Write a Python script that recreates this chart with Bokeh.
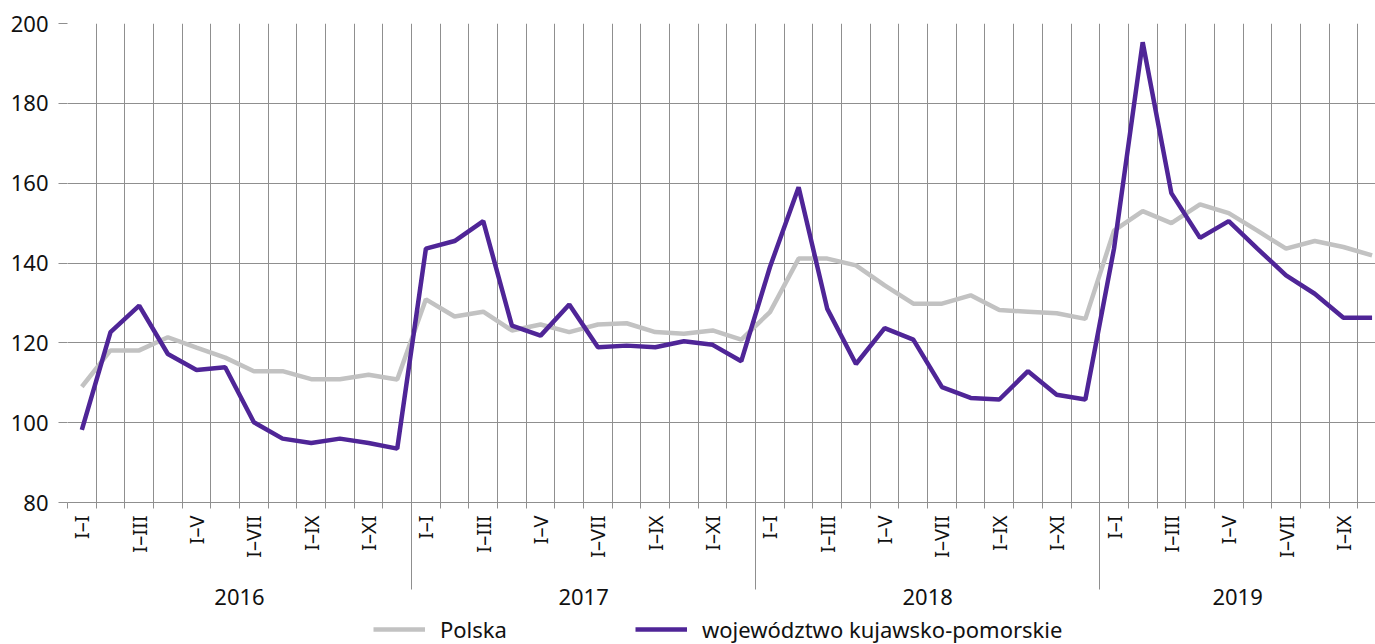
from math import pi
from bokeh.plotting import figure
from bokeh.layouts import column
from bokeh.models import FixedTicker, LinearAxis, Legend, LegendItem, Range1d
from bokeh.embed import file_html
from bokeh.resources import INLINE

# ---- data ----
month_labels = (["I–I", "", "I–III", "", "I–V", "", "I–VII", "", "I–IX", "", "I–XI", ""] * 3
                + ["I–I", "", "I–III", "", "I–V", "", "I–VII", "", "I–IX", ""])
years = ["2016", "2017", "2018", "2019"]
months_per_year = [12, 12, 12, 10]

polska = [109.0, 118.1, 118.1, 121.4, 118.8, 116.3, 112.9, 112.9, 110.9, 110.9, 112.0, 110.8,
          130.9, 126.6, 127.8, 123.1, 124.6, 122.7, 124.6, 124.9, 122.7, 122.3, 123.1, 120.8,
          127.7, 141.1, 141.1, 139.4, 134.4, 129.8, 129.8, 131.9, 128.2, 127.8, 127.4, 126.0,
          148.1, 153.0, 150.0, 154.7, 152.5, 148.1, 143.6, 145.5, 144.0, 141.9]
kujawsko = [98.2, 122.7, 129.3, 117.2, 113.2, 113.9, 100.1, 96.0, 94.9, 96.0, 94.9, 93.5,
            143.6, 145.5, 150.5, 124.3, 121.8, 129.6, 118.9, 119.3, 118.9, 120.4, 119.5, 115.4,
            139.0, 159.0, 128.5, 114.7, 123.7, 120.8, 108.9, 106.2, 105.8, 112.9, 107.0, 105.8,
            143.6, 195.3, 157.5, 146.3, 150.5, 143.6, 136.9, 132.3, 126.3, 126.3]
y_ticks = [80, 100, 120, 140, 160, 180, 200]

series_names = ["Polska", "województwo kujawsko-pomorskie"]

# ---- style ----
FONT = "Noto Sans"
GRID = "#8f8f8f"
GRAY = "#c2c2c2"
PURPLE = "#4f2597"
TEXT = "#111111"

n = len(polska)
xs = list(range(n))
x_end = 45.12

p = figure(width=1375, height=614, output_backend="svg", toolbar_location=None,
           x_range=Range1d(-0.5, x_end), y_range=Range1d(80, 200),
           min_border_left=67, min_border_right=0, min_border_top=23, min_border_bottom=112)
p.outline_line_color = None

p.line(xs, polska, line_color=GRAY, line_width=4.5)
p.line(xs, kujawsko, line_color=PURPLE, line_width=4.5)

# x axis: labels at month centres, ticks/grid at month boundaries
xax = p.xaxis[0]
xax.ticker = FixedTicker(ticks=xs, minor_ticks=[i - 0.5 for i in range(n + 1)])
xax.major_label_overrides = {i: month_labels[i] for i in xs}
xax.major_label_orientation = pi / 2
xax.major_tick_line_color = None
xax.major_tick_out = 0
xax.major_tick_in = 0
xax.minor_tick_out = 6
xax.minor_tick_in = 0
xax.minor_tick_line_color = GRID
xax.axis_line_color = GRID
xax.major_label_standoff = 7
xax.major_label_text_font = FONT
xax.major_label_text_font_size = "20px"
xax.major_label_text_color = TEXT

p.xgrid.grid_line_color = None
p.xgrid.minor_grid_line_color = GRID
p.ygrid.grid_line_color = GRID
p.ygrid.ticker = FixedTicker(ticks=y_ticks)

yax = p.yaxis[0]
yax.ticker = FixedTicker(ticks=y_ticks)
yax.axis_line_color = None
yax.major_tick_out = 9
yax.major_tick_in = 0
yax.major_tick_line_color = GRID
yax.minor_tick_line_color = None
yax.major_label_standoff = 10
yax.major_label_text_font = FONT
yax.major_label_text_font_size = "22px"
yax.major_label_text_color = TEXT

# year axis (labels centred on each year, separators between years)
centers, bounds = [], []
start = -0.5
for m in months_per_year:
    end = start + m
    centers.append((start + min(end, x_end)) / 2)
    if end < x_end:
        bounds.append(end)
    start = end
yr = LinearAxis(ticker=FixedTicker(ticks=centers, minor_ticks=bounds),
                major_label_overrides={c: y for c, y in zip(centers, years)})
yr.axis_line_color = None
yr.major_tick_line_color = None
yr.major_tick_out = 0
yr.major_tick_in = 0
yr.minor_tick_line_color = GRID
yr.minor_tick_in = 57
yr.minor_tick_out = 29
yr.major_label_standoff = -1
yr.major_label_text_font = FONT
yr.major_label_text_font_size = "22px"
yr.major_label_text_color = TEXT
p.add_layout(yr, "below")

# legend strip
lg = figure(width=1375, height=30, output_backend="svg", toolbar_location=None,
            x_range=Range1d(0, 1), y_range=Range1d(0, 1),
            x_axis_location=None, y_axis_location=None,
            min_border_left=0, min_border_right=0, min_border_top=0, min_border_bottom=0)
lg.grid.visible = False
lg.outline_line_color = None
s1 = lg.line(x=[-2, -1], y=[-1, -1], line_color=GRAY, line_width=4.5)
s2 = lg.line(x=[-2, -1], y=[-1, -1], line_color=PURPLE, line_width=4.5)
legend = Legend(items=[LegendItem(label=series_names[0], renderers=[s1]),
                       LegendItem(label=series_names[1], renderers=[s2])],
                orientation="horizontal", location=(306, 0),
                glyph_width=52, glyph_height=20, label_standoff=15, spacing=128,
                padding=0, margin=0, border_line_color=None, background_fill_alpha=0,
                label_text_font=FONT, label_text_font_size="22px", label_text_color=TEXT)
lg.add_layout(legend, "center")

layout = column(p, lg, spacing=0)
open("out.html", "w").write(file_html(layout, INLINE))
